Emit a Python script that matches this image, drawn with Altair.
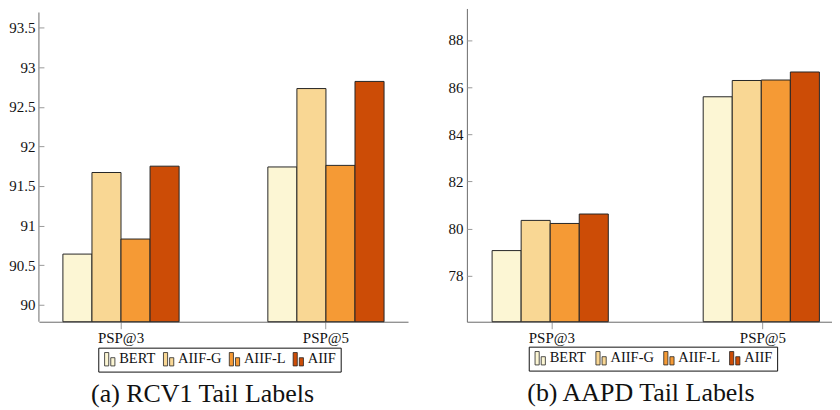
import altair as alt
import pandas as pd

categories = ["PSP@3", "PSP@5"]
series = ["BERT", "AIIF-G", "AIIF-L", "AIIF"]
colors = ["#fcf6d4", "#f9d794", "#f59a35", "#cc4c06"]

rcv1_bert = [90.64, 91.74]
rcv1_aiifg = [91.67, 92.73]
rcv1_aiifl = [90.83, 91.76]
rcv1_aiif = [91.75, 92.82]

aapd_bert = [79.07, 85.59]
aapd_aiifg = [80.35, 86.28]
aapd_aiifl = [80.22, 86.30]
aapd_aiif = [80.62, 86.64]

rcv1_ticks = [90.0, 90.5, 91.0, 91.5, 92.0, 92.5, 93.0, 93.5]
aapd_ticks = [78, 80, 82, 84, 86, 88]
rcv1_domain = [89.786, 93.741]
aapd_domain = [76.055, 89.332]
rcv1_axis_top = 93.69

captions = ["(a) RCV1 Tail Labels", "(b) AAPD Tail Labels"]

FONT = "Liberation Serif, Times New Roman, serif"
AXIS_GRAY = "#6a6a6a"
TICK_GRAY = "#9a9a9a"
STROKE = "#262626"
SYMBOL = "M-0.77,-1H-0.15V1H-0.77Z M0.15,-0.23H0.77V1H0.15Z"


def make_df(lists):
    rows = []
    for s, vals in zip(series, lists):
        for c, v in zip(categories, vals):
            rows.append({"category": c, "series": s, "value": v})
    return pd.DataFrame(rows)


def panel(df, domain, ticks, width, height, pad_in, pad_out, align,
          legend_x, legend_y, col_pad, caption, caption_dx, axis_top=None):
    yscale = alt.Scale(domain=domain, zero=False, nice=False)
    xenc = alt.X(
        "category:N", sort=categories,
        scale=alt.Scale(paddingInner=pad_in, paddingOuter=pad_out, align=align),
        axis=alt.Axis(title=None, labelAngle=0, tickSize=7, tickColor=TICK_GRAY,
                      domainColor=AXIS_GRAY, labelPadding=2, labelFontSize=15,
                      labelFont=FONT, labelColor="#111", bandPosition=0.5, grid=False),
    )
    xoff = alt.XOffset("series:N", sort=series,
                       scale=alt.Scale(paddingInner=0, paddingOuter=0))
    color = alt.Color(
        "series:N", sort=series, scale=alt.Scale(domain=series, range=colors),
        legend=alt.Legend(
            title=None, orient="none", legendX=legend_x, legendY=legend_y,
            direction="horizontal", columns=4, symbolType=SYMBOL, symbolSize=180,
            symbolStrokeColor=STROKE, symbolStrokeWidth=0.8, symbolOpacity=1,
            labelFont=FONT, labelFontSize=14.5, labelColor="#111", labelOffset=2,
            columnPadding=col_pad, padding=4, strokeColor="#111", fillColor="white",
        ),
    )
    bars = alt.Chart(df).mark_bar(stroke=STROKE, strokeWidth=1).encode(
        x=xenc,
        xOffset=xoff,
        y=alt.Y("value:Q", scale=yscale,
                axis=alt.Axis(title=None, values=ticks, format="~g", tickSize=0,
                              labelPadding=4, domain=axis_top is None,
                              domainColor=AXIS_GRAY, labelFontSize=15,
                              labelFont=FONT, labelColor="#111", grid=False)),
        y2=alt.datum(domain[0]),
        color=color,
    )
    inner = alt.Chart(df).mark_rule(opacity=0).encode(
        y=alt.Y("value:Q", scale=yscale,
                axis=alt.Axis(orient="left", title=None, values=ticks, labels=False,
                              domain=False, tickSize=5, offset=-5,
                              tickColor=TICK_GRAY, grid=False)),
    )
    layers = [bars, inner]
    if axis_top is not None:
        dom = alt.Chart(pd.DataFrame({"lo": [domain[0]], "hi": [axis_top]})).mark_rule(
            color=AXIS_GRAY, strokeWidth=1
        ).encode(
            x=alt.value(0),
            y=alt.Y("lo:Q", scale=yscale, axis=None),
            y2="hi:Q",
        )
        layers.append(dom)
    return alt.layer(*layers).resolve_axis(y="independent").properties(
        width=width, height=height,
        title=alt.TitleParams(caption, orient="bottom", anchor="middle", fontSize=26,
                              font=FONT, fontWeight="normal", color="#111",
                              offset=9, dx=caption_dx),
    )


left = panel(make_df([rcv1_bert, rcv1_aiifg, rcv1_aiifl, rcv1_aiif]), rcv1_domain,
             rcv1_ticks, 370, 314, 0.433, 0.117, 0.5, 59.5, 340, 5, captions[0], -21,
             axis_top=rcv1_axis_top)
right = panel(make_df([aapd_bert, aapd_aiifg, aapd_aiifl, aapd_aiif]), aapd_domain,
              aapd_ticks, 366, 314, 0.434, 0.0818, 0.73, 62, 339, 7, captions[1], -8.5)

chart = alt.hconcat(left, right, spacing=40).resolve_scale(
    color="independent"
).resolve_legend(color="independent").properties(
    padding={"left": 0, "top": 0, "right": 0, "bottom": 0}
).configure(font=FONT).configure_view(stroke=None).configure_axis(
    labelFont=FONT
).configure_legend(labelFont=FONT)

chart.save("out.html", embed_options={"renderer": "svg", "actions": False})
